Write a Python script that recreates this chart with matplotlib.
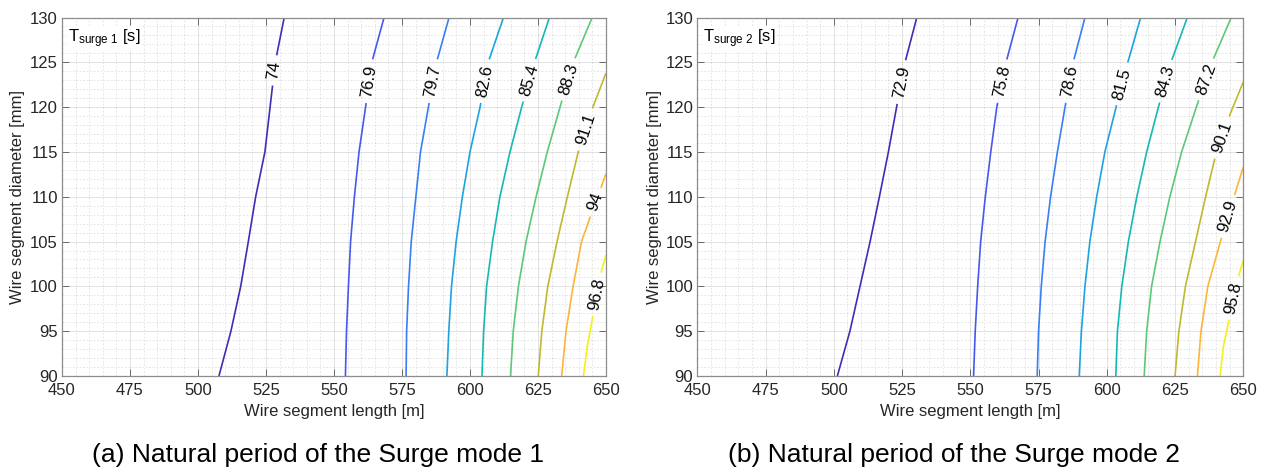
import numpy as np
import matplotlib
matplotlib.use("Agg")
import matplotlib.pyplot as plt
from matplotlib.ticker import MultipleLocator
from matplotlib.font_manager import FontProperties

plt.rcParams['font.family'] = ['Liberation Sans', 'DejaVu Sans']
plt.rcParams['mathtext.fontset'] = 'custom'
plt.rcParams['mathtext.rm'] = 'Liberation Sans'
plt.rcParams['mathtext.it'] = 'Liberation Sans:italic'

# Diameter stations [mm] at which the iso-period lines are tabulated
DIAM_STEPS = [90, 95, 100, 105, 110, 115, 120, 125, 130]

# ---- Surge mode 1: iso-period lines (wire length [m] vs diameter [mm]) ----
levels_1 = [74, 76.9, 79.7, 82.6, 85.4, 88.3, 91.1, 94, 96.8]
length_1 = [
    [507.7, 512.1, 515.7, 518.5, 521.2, 524.6, 526.5, 528.4, 531.7],
    [554.2, 554.6, 555.3, 556.1, 557.5, 559.2, 561.6, 563.9, 568.4],
    [576.5, 576.7, 577.4, 578.4, 580.1, 581.8, 584.7, 587.7, 592.3],
    [591.5, 592.2, 593.2, 594.9, 597.2, 600.0, 603.7, 606.7, 612.3],
    [604.4, 605.0, 606.1, 608.3, 611.0, 614.7, 619.0, 623.7, 629.2],
    [614.9, 615.9, 617.8, 620.6, 624.3, 628.4, 633.1, 638.0, 644.9],
    [625.1, 626.4, 628.6, 632.0, 635.8, 639.8, 645.3, 650.0],
    [633.7, 635.3, 637.9, 641.0, 644.5, 647.8, 650.0],
    [641.7, 643.1, 645.0, 648.4, 650.0],
]
diam_1 = [DIAM_STEPS] * 6 + [
    [90, 95, 100, 105, 110, 115, 120.1, 123.8],
    [90, 95, 100, 105, 108, 110.7, 112.6],
    [90, 93.3, 96.4, 101.8, 103.5],
]
label_diam_1 = [124.1, 122.9, 122.9, 122.9, 123.0, 123.1, 117.5, 109.4, 99.1]

# ---- Surge mode 2 ----
levels_2 = [72.9, 75.8, 78.6, 81.5, 84.3, 87.2, 90.1, 92.9, 95.8]
length_2 = [
    [501.3, 505.9, 509.6, 513.3, 516.7, 520.0, 523.0, 526.1, 530.4],
    [551.2, 551.8, 552.7, 553.8, 555.5, 557.5, 559.7, 563.1, 567.5],
    [574.5, 575.0, 576.0, 577.4, 579.4, 581.9, 584.7, 587.7, 592.0],
    [589.9, 590.7, 592.0, 593.8, 596.3, 599.3, 603.4, 607.7, 612.4],
    [603.3, 603.9, 605.5, 607.9, 611.0, 614.6, 618.9, 623.5, 629.5],
    [613.7, 614.6, 616.4, 619.5, 623.1, 627.4, 632.8, 638.5, 645.6],
    [625.0, 626.4, 628.8, 632.5, 636.2, 639.6, 645.4, 650.0],
    [633.2, 634.5, 637.0, 641.8, 647.2, 650.0],
    [641.5, 642.7, 644.5, 648.4, 650.0],
]
diam_2 = [DIAM_STEPS] * 6 + [
    [90, 95, 100, 105, 110, 114.3, 119.4, 122.8],
    [90, 95, 100, 105.2, 110.6, 113.3],
    [90, 93.3, 95.9, 101.3, 102.9],
]
label_diam_2 = [122.8, 122.9, 122.9, 122.6, 122.9, 123.1, 116.6, 107.8, 98.7]

# Parula-like line colours, low to high period
line_colors = ['#3b2eb8', '#4758ee', '#3a7ef5', '#1ca3e0', '#14b9b6',
               '#5cc878', '#c2b82e', '#fbb63a', '#f2f218']

fig = plt.figure(figsize=(12.73, 4.70), dpi=100)
ax1 = fig.add_axes([62 / 1273, 1 - 376 / 470, 544 / 1273, 358.5 / 470])
ax2 = fig.add_axes([697.3 / 1273, 1 - 376 / 470, 546 / 1273, 358.5 / 470])

TXT = '#262626'
FS = 12
label_font = FontProperties(family=['Liberation Sans', 'DejaVu Sans'], size=FS)


def setup_axes(ax, ylabel_x):
    ax.set_xlim(450, 650)
    ax.set_ylim(90, 130)
    ax.xaxis.set_major_locator(MultipleLocator(25))
    ax.yaxis.set_major_locator(MultipleLocator(5))
    ax.xaxis.set_minor_locator(MultipleLocator(5))
    ax.yaxis.set_minor_locator(MultipleLocator(1))
    ax.tick_params(which='major', direction='in', top=True, right=True,
                   length=5, width=0.6, color='#555555', labelcolor=TXT,
                   labelsize=FS)
    ax.tick_params(axis='x', which='major', pad=5)
    ax.tick_params(axis='y', which='major', pad=3)
    ax.tick_params(which='minor', length=0)
    ax.set_axisbelow(True)
    ax.grid(True, which='major', color=TXT, alpha=0.15, lw=0.6)
    ax.grid(True, which='minor', color=TXT, alpha=0.17, lw=0.5,
            ls=(0, (2.5, 2.5)))
    for sp in ax.spines.values():
        sp.set_color('#8c8c8c')
        sp.set_linewidth(0.9)
    ax.set_xlabel('Wire segment length [m]', fontsize=FS, color=TXT)
    ax.set_ylabel('Wire segment diameter [mm]', fontsize=FS, color=TXT)
    ax.xaxis.set_label_coords(0.5, -0.078)
    ax.yaxis.set_label_coords(ylabel_x, 0.5)


def draw_isolines(ax, levels, lengths, diams, label_diams):
    renderer = fig.canvas.get_renderer()
    for lev, L, D, dc, col in zip(levels, lengths, diams, label_diams,
                                  line_colors):
        L = np.asarray(L, float)
        D = np.asarray(D, float)
        pts = ax.transData.transform(np.column_stack([L, D]))
        seg = np.hypot(np.diff(pts[:, 0]), np.diff(pts[:, 1]))
        s = np.concatenate([[0.0], np.cumsum(seg)])
        sc = np.interp(dc, D, s)
        txt = f"{lev:g}"
        w, _, _ = renderer.get_text_width_height_descent(txt, label_font,
                                                         ismath=False)
        half = w / 2 + 6
        s0, s1 = sc - half, sc + half
        x0, y0 = np.interp(s0, s, L), np.interp(s0, s, D)
        x1, y1 = np.interp(s1, s, L), np.interp(s1, s, D)
        lo = s < s0
        hi = s > s1
        ax.plot(np.r_[L[lo], x0], np.r_[D[lo], y0], color=col, lw=1.2,
                solid_capstyle='butt', clip_on=True)
        if hi.any():
            ax.plot(np.r_[x1, L[hi]], np.r_[y1, D[hi]], color=col, lw=1.2,
                    solid_capstyle='butt', clip_on=True)
        p0 = ax.transData.transform((x0, y0))
        p1 = ax.transData.transform((x1, y1))
        ang = np.degrees(np.arctan2(p1[1] - p0[1], p1[0] - p0[0]))
        if ang > 90:
            ang -= 180
        elif ang < -90:
            ang += 180
        xc, yc = np.interp(sc, s, L), np.interp(sc, s, D)
        ax.text(xc, yc, txt, rotation=ang, rotation_mode='anchor',
                ha='center', va='center', fontproperties=label_font,
                color='black')


setup_axes(ax1, -0.068)
setup_axes(ax2, -0.065)
draw_isolines(ax1, levels_1, length_1, diam_1, label_diam_1)
draw_isolines(ax2, levels_2, length_2, diam_2, label_diam_2)

for ax, mode in ((ax1, '1'), (ax2, '2')):
    ax.text(0.011, 0.972, r'$\mathregular{T_{surge\ ' + mode + r'}}$ [s]',
            transform=ax.transAxes, ha='left', va='top', fontsize=FS,
            color='black',
            bbox=dict(facecolor='white', edgecolor='none', pad=1.0))

fig.text(0.2498, 1 - 462 / 470, '(a) Natural period of the Surge mode 1',
         ha='center', va='baseline', fontsize=19, color='black')
fig.text(0.7494, 1 - 462 / 470, '(b) Natural period of the Surge mode 2',
         ha='center', va='baseline', fontsize=19, color='black')

fig.savefig('out.png', dpi=100, facecolor='white')
